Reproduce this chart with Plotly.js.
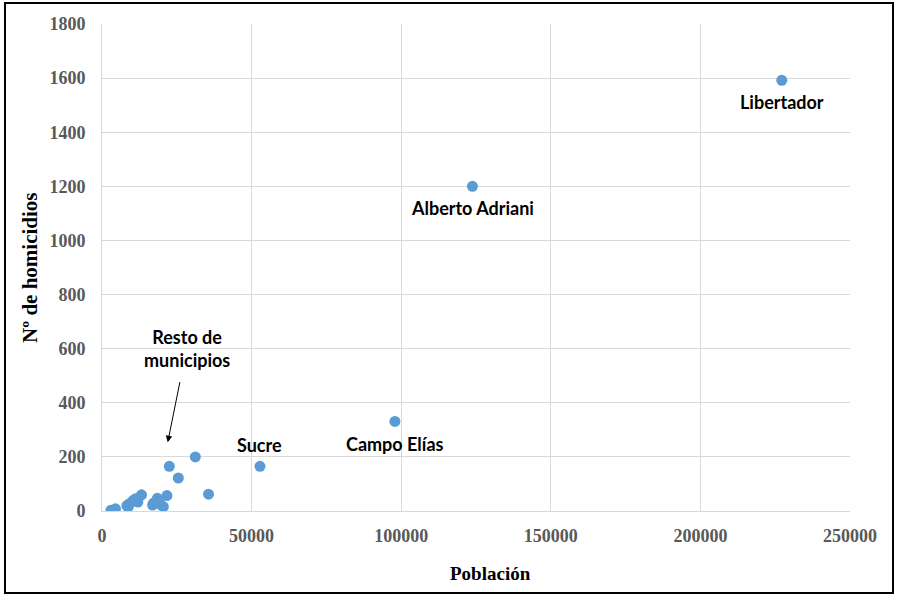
<!DOCTYPE html>
<html>
<head>
<meta charset="utf-8">
<script src="https://cdn.plot.ly/plotly-3.0.1.min.js"></script>
<style>html,body{margin:0;padding:0;background:#fff;}#chart{width:897px;height:596px;}</style>
</head>
<body>
<div id="chart"></div>
<script>
// Municipalities (población, nº de homicidios)
const labeledNames = ["Libertador", "Alberto Adriani", "Campo Elías", "Sucre"];
const labeledPop   = [227200, 123800, 97900, 52800];
const labeledHom   = [1592, 1200, 331, 165];

const restPop = [31200, 22500, 25500, 35600, 13200, 21700, 18500, 17300, 20500, 12000, 10500, 9300, 8300, 4500, 3000, 11200, 19600, 16900, 8700];
const restHom = [200, 165, 122, 62, 60, 57, 47, 30, 16, 33, 40, 28, 20, 8, 3, 45, 24, 22, 14];

const xTicks = [0, 50000, 100000, 150000, 200000, 250000];
const yTicks = [0, 200, 400, 600, 800, 1000, 1200, 1400, 1600, 1800];

const xTitle = "Población";
const yTitle = "Nº de homicidios";

const allPop = labeledPop.concat(restPop);
const allHom = labeledHom.concat(restHom);

const labelShift = {"Libertador": -22, "Alberto Adriani": -22, "Campo Elías": -23, "Sucre": 21};
const labelFont = {family: "Lato, 'Noto Sans', sans-serif", size: 18, color: "#000", weight: "bold"};

const tickFont = {family: "'Liberation Serif', 'Times New Roman', serif", size: 18, color: "#595959", weight: "bold"};
const titleFontX = {family: "'Liberation Serif', 'Times New Roman', serif", size: 19, color: "#000", weight: "bold"};
const titleFontY = {family: "'Liberation Serif', 'Times New Roman', serif", size: 21, color: "#000", weight: "bold"};

const annotations = labeledNames.map((n, i) => ({
  x: labeledPop[i], y: labeledHom[i], xref: "x", yref: "y",
  text: n, showarrow: false, yshift: labelShift[n], font: labelFont
}));
annotations.push({
  x: 21970, y: 254, xref: "x", yref: "y",
  text: "Resto de<br>municipios", showarrow: true,
  ax: 19, ay: -94, arrowhead: 2, arrowsize: 1.3, arrowwidth: 1, arrowcolor: "#000",
  startstandoff: 10, font: labelFont
});
// axis titles
annotations.push({
  xref: "paper", yref: "paper", x: 0.52, y: -0.128, yanchor: "middle",
  text: xTitle, showarrow: false, font: titleFontX
});
annotations.push({
  xref: "paper", yref: "paper", x: -0.097, y: 0.5, xanchor: "center",
  text: yTitle, textangle: -90, showarrow: false, font: titleFontY
});

const trace = {
  x: allPop, y: allHom, type: "scatter", mode: "markers",
  marker: {color: "#5b9bd5", size: 11}, hoverinfo: "skip"
};

const layout = {
  width: 897, height: 596,
  margin: {l: 102, r: 47, t: 24, b: 85},
  paper_bgcolor: "#fff", plot_bgcolor: "#fff",
  showlegend: false,
  xaxis: {
    range: [0, 250000], tickvals: xTicks, ticktext: xTicks.map(String),
    showgrid: true, gridcolor: "#d9d9d9", gridwidth: 1,
    showline: true, linecolor: "#d9d9d9", linewidth: 1, zeroline: false,
    ticks: "", tickfont: tickFont, ticklabelstandoff: 8
  },
  yaxis: {
    range: [0, 1800], tickvals: yTicks, ticktext: yTicks.map(String),
    showgrid: true, gridcolor: "#d9d9d9", gridwidth: 1,
    showline: true, linecolor: "#d9d9d9", linewidth: 1, zeroline: false,
    ticks: "", tickfont: tickFont, ticklabelstandoff: 12
  },
  annotations: annotations,
  shapes: [{
    type: "rect", xref: "paper", yref: "paper",
    x0: -0.1297, x1: 1.0575, y0: -0.1684, y1: 1.0431,
    line: {color: "#000", width: 2}, fillcolor: "rgba(0,0,0,0)", layer: "above"
  }]
};

Plotly.newPlot("chart", [trace], layout, {staticPlot: true, displayModeBar: false});
</script>
</body>
</html>
